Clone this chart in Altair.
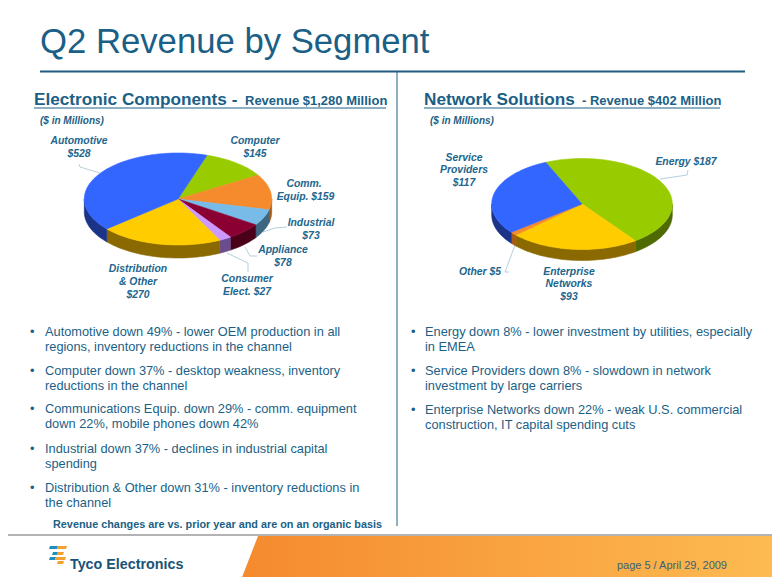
import math
import altair as alt

W, H = 764, 569
INK = "#1b5f86"
LABEL = "#22668e"

left_names = ["Computer", "Comm. Equip.", "Industrial", "Appliance", "Consumer Elect.", "Distribution & Other", "Automotive"]
left_values = [145, 159, 73, 78, 27, 270, 528]
left_colors = ["#99cc00", "#f68b2e", "#78bbe8", "#8b0033", "#cc99ff", "#ffcc00", "#3366ff"]
left_sides = ["#4f6a00", "#a85a14", "#3f6680", "#4a0018", "#6b4c8c", "#8a6a00", "#1b3488"]

right_names = ["Energy", "Enterprise Networks", "Other", "Service Providers"]
right_values = [187, 93, 5, 117]
right_colors = ["#99cc00", "#ffcc00", "#f68b2e", "#3366ff"]
right_sides = ["#4f6a00", "#8a6a00", "#a85a14", "#1b3488"]

left_bullets = [
    ["Automotive down 49% - lower OEM production in all", "regions, inventory reductions in the channel"],
    ["Computer down 37% - desktop weakness, inventory", "reductions in the channel"],
    ["Communications Equip. down 29% - comm. equipment", "down 22%, mobile phones down 42%"],
    ["Industrial down 37% - declines in industrial capital", "spending"],
    ["Distribution & Other down 31% - inventory reductions in", "the channel"],
]
right_bullets = [
    ["Energy down 8% - lower investment by utilities, especially", "in EMEA"],
    ["Service Providers down 8% - slowdown in network", "investment by large carriers"],
    ["Enterprise Networks down 22% - weak U.S. commercial", "construction, IT capital spending cuts"],
]


def feature(kind, coords, color):
    geometry = {"type": kind, "coordinates": coords}
    return {"type": "Feature", "geometry": geometry, "properties": {"color": color}}


def poly(points, color):
    return feature("Polygon", [[list(p) for p in points] + [list(points[0])]], color)


def pie(values, colors, sides, cx, cy, rx, ry, depth, start):
    walls, tops = [], []
    total = sum(values)
    angle = start
    for value, color, side in zip(values, colors, sides):
        sweep = value / total * 360
        a0, a1 = angle, angle + sweep
        n = max(2, int(sweep / 2))
        ts = [a0 + (a1 - a0) * i / n for i in range(n + 1)]
        rim = [(cx + rx * math.sin(math.radians(t)), cy - ry * math.cos(math.radians(t))) for t in ts]
        tops.append(poly([(cx, cy)] + rim, color))
        lo, hi = max(a0, 90), min(a1, 270)
        if hi > lo:
            m = max(2, int((hi - lo) / 2))
            ws = [lo + (hi - lo) * i / m for i in range(m + 1)]
            edge = [(cx + rx * math.sin(math.radians(t)), cy - ry * math.cos(math.radians(t))) for t in ws]
            walls.append(poly(edge + [(x, y + depth) for x, y in reversed(edge)], side))
        angle = a1
    return walls + tops


IDENTITY = alt.Projection(type="identity", scale=1, translate=[-8, -8])


def shapes(features, stroke_width=0.6):
    return (
        alt.Chart(alt.Data(values=features))
        .mark_geoshape(strokeWidth=stroke_width, filled=True)
        .encode(
            fill=alt.Fill("properties.color:N", scale=None, legend=None),
            stroke=alt.Stroke("properties.color:N", scale=None, legend=None),
        )
        .project(**IDENTITY.to_dict())
    )


def lines(paths, color, width):
    feats = [feature("LineString", [list(p) for p in path], color) for path in paths]
    return (
        alt.Chart(alt.Data(values=feats))
        .mark_geoshape(filled=False, strokeWidth=width, stroke=color, fill=None)
        .project(**IDENTITY.to_dict())
    )


X = alt.X("x:Q", scale=alt.Scale(domain=[8, 8 + W], range=[0, W], nice=False, zero=False), axis=None)
Y = alt.Y("y:Q", scale=alt.Scale(domain=[8, 8 + H], range=[0, H], nice=False, zero=False), axis=None)


def text(rows, size, color=INK, align="left", bold=False, italic=False, font="Liberation Sans"):
    data = [{"x": x, "y": y, "t": t} for x, y, t in rows]
    return (
        alt.Chart(alt.Data(values=data))
        .mark_text(
            fontSize=size,
            color=color,
            align=align,
            baseline="alphabetic",
            font=font,
            fontWeight="bold" if bold else "normal",
            fontStyle="italic" if italic else "normal",
        )
        .encode(x=X, y=Y, text="t:N")
    )


left_pie = pie(left_values, left_colors, left_sides, 178, 199, 93.7, 46, 13, 18)
right_pie = pie(right_values, right_colors, right_sides, 582, 204, 90.3, 45.5, 11, -23.7)

footer_fill = alt.Gradient(
    gradient="linear", x1=0, x2=1, y1=0, y2=0,
    stops=[alt.GradientStop(color="#f58a2e", offset=0), alt.GradientStop(color="#fdbb52", offset=1)],
)
footer = (
    alt.Chart(alt.Data(values=[poly([(258, 536), (780, 536), (780, 585), (239, 585)], "#f58a2e")]))
    .mark_geoshape(fill=footer_fill, stroke=None)
    .project(**IDENTITY.to_dict())
)

logo = shapes([
    poly([(50, 546), (58, 546), (57, 549), (49, 549)], "#1f8fc0"),
    poly([(58, 546), (67, 546), (66, 549), (57, 549)], "#f5a033"),
    poly([(53, 552), (58, 552), (57, 555), (52, 555)], "#1f8fc0"),
    poly([(58, 552), (64, 552), (63, 555), (57, 555)], "#f5a033"),
    poly([(50, 557), (56, 557), (55, 560), (49, 560)], "#1f8fc0"),
    poly([(56, 557), (66, 557), (65, 560), (55, 560)], "#f5a033"),
    poly([(58, 561), (64, 561), (63, 564), (57, 564)], "#f5a033"),
], 0)

rules = (
    lines([[(40, 71.5), (745, 71.5)]], "#1f5a80", 2)
    + lines([[(397, 72), (397, 526)]], "#1f6288", 1)
    + lines([[(0, 535), (780, 535)]], "#b3b3b3", 2)
    + lines([[(34, 108), (386, 108)], [(424, 108), (720, 108)]], "#1f6288", 1.2)
    + lines([
        [(79, 164), (80, 167), (100, 173)],
        [(287, 227), (275, 228), (263, 232)],
        [(257, 256), (250, 256), (245, 247)],
        [(248, 272), (248, 263), (227, 253)],
        [(688, 170), (687, 175), (660, 179)],
        [(509, 272), (505, 272), (515, 245)],
    ], "#a5c2d2", 0.8)
)

bullet_rows, left_rows, right_rows = [], [], []
left_ys = [[336, 351], [375, 390], [413, 428], [453, 468], [492, 507]]
right_ys = [[336, 351], [375, 390], [414, 429]]
for block, ys in zip(left_bullets, left_ys):
    bullet_rows.append((30, ys[0], "•"))
    left_rows.extend((45, y, line) for y, line in zip(ys, block))
for block, ys in zip(right_bullets, right_ys):
    bullet_rows.append((411, ys[0], "•"))
    right_rows.extend((425, y, line) for y, line in zip(ys, block))

pie_labels = [
    (79, 144, "Automotive"), (79, 157, "$528"),
    (255, 144, "Computer"), (255, 157, "$145"),
    (304, 187, "Comm."), (305.5, 200, "Equip. $159"),
    (311, 226, "Industrial"), (311, 239, "$73"),
    (283, 253, "Appliance"), (283, 266, "$78"),
    (247, 282, "Consumer"), (247, 295, "Elect. $27"),
    (138, 272, "Distribution"), (138, 285, "& Other"), (138, 298, "$270"),
    (464, 161, "Service"), (464, 173, "Providers"), (464, 186, "$117"),
    (686, 165, "Energy $187"),
    (480, 275, "Other $5"),
    (569, 275, "Enterprise"), (569, 287, "Networks"), (569, 300, "$93"),
]

chart = (
    rules
    + footer
    + shapes(left_pie)
    + shapes(right_pie)
    + logo
    + text([(40, 53, "Q2 Revenue by Segment")], 34.7, INK)
    + text([(34, 105, "Electronic Components - ")], 17.2, INK, bold=True)
    + text([(245, 105, "Revenue $1,280 Million")], 13, INK, bold=True)
    + text([(424, 105, "Network Solutions")], 17.2, INK, bold=True)
    + text([(582, 105, "- Revenue $402 Million")], 13, INK, bold=True)
    + text([(40, 124, "($ in Millions)"), (430, 124, "($ in Millions)")], 10, INK, bold=True, italic=True)
    + text(pie_labels, 10.4, LABEL, align="center", bold=True, italic=True)
    + text(bullet_rows, 12.8, INK)
    + text(left_rows + right_rows, 12.8, INK)
    + text([(53, 528, "Revenue changes are vs. prior year and are on an organic basis")], 10.85, INK, bold=True)
    + text([(70, 568.5, "Tyco Electronics")], 14.3, "#1a5276", bold=True)
    + text([(727, 569, "page 5 /  April 29, 2009")], 11, "#3a6078", align="right")
).properties(width=W, height=H, padding=0, autosize=alt.AutoSizeParams(type="none")).configure_view(stroke=None)

chart.save("out.html", embed_options={"renderer": "svg", "actions": False})
